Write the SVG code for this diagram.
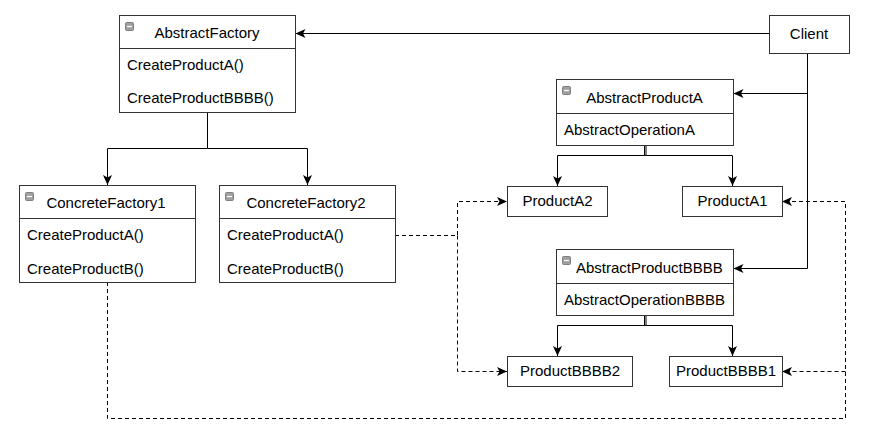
<svg xmlns="http://www.w3.org/2000/svg" width="879" height="438" viewBox="0 0 879 438">
<style>
.box{fill:#fff;stroke:#333;stroke-width:1}
.div{stroke:#333;stroke-width:1}
.t{font-family:"Liberation Sans",Arial,sans-serif;font-size:15px;fill:#000}
.c{text-anchor:middle}
.ln{fill:none;stroke:#000;stroke-width:1}
.dl{fill:none;stroke:#000;stroke-width:1;stroke-dasharray:4 3}
.ic{fill:#a0a0a0;stroke:#808080;stroke-width:1}
.icm{stroke:#fff;stroke-width:1.2}
</style>
<defs>
<marker id="arr" markerUnits="userSpaceOnUse" markerWidth="12" markerHeight="10" refX="10" refY="4.5" orient="auto">
<path d="M0,0 L10,4.5 L0,9 L2.5,4.5 Z" fill="#000"/>
</marker>
</defs>
<rect width="879" height="438" fill="#fff"/>
<g id="connectors">
<path class="ln" d="M769,33.5 H295.5" marker-end="url(#arr)"/>
<path class="ln" d="M807.5,53 V268.5 H733.5" marker-end="url(#arr)"/>
<path class="ln" d="M807.5,93.5 H733.5" marker-end="url(#arr)"/>
<path class="ln" d="M207.5,112 V148.5 H107.5 V185" marker-end="url(#arr)"/>
<path class="ln" d="M207.5,148.5 H307.5 V185" marker-end="url(#arr)"/>
<path class="ln" d="M644.5,145 V155.5 H557.5 V186" marker-end="url(#arr)"/>
<path class="ln" d="M644.5,155.5 H732.5 V186" marker-end="url(#arr)"/>
<path class="ln" d="M646,145 V155.5"/>
<path class="ln" d="M644.5,315 V325.5 H557.5 V356" marker-end="url(#arr)"/>
<path class="ln" d="M644.5,325.5 H732.5 V356" marker-end="url(#arr)"/>
<path class="ln" d="M646,315 V325.5"/>
<path class="dl" d="M395,235.5 H457.5 V201.5 H507" marker-end="url(#arr)"/>
<path class="dl" d="M457.5,235.5 V371.5 H507" marker-end="url(#arr)"/>
<path class="dl" d="M107.5,282 V418.5 H845.5 V201.5 H782" marker-end="url(#arr)"/>
<path class="dl" d="M845.5,371.5 H782" marker-end="url(#arr)"/>
</g>
<g id="AbstractFactory">
<rect class="box" x="119.5" y="15.5" width="176" height="97"/>
<line class="div" x1="119.5" y1="48.5" x2="295.5" y2="48.5"/>
<rect class="ic" x="125.5" y="22.5" width="8" height="8" rx="1"/>
<line class="icm" x1="127" y1="26.5" x2="132" y2="26.5"/>
<text class="t c" x="207" y="38">AbstractFactory</text>
<text class="t" x="127" y="70">CreateProductA()</text>
<text class="t" x="127" y="103">CreateProductBBBB()</text>
</g>
<g id="ConcreteFactory1">
<rect class="box" x="19.5" y="185.5" width="176" height="97"/>
<line class="div" x1="19.5" y1="218.5" x2="195.5" y2="218.5"/>
<rect class="ic" x="25.5" y="192.5" width="8" height="8" rx="1"/>
<line class="icm" x1="27" y1="196.5" x2="32" y2="196.5"/>
<text class="t c" x="106" y="208">ConcreteFactory1</text>
<text class="t" x="27" y="240">CreateProductA()</text>
<text class="t" x="27" y="274">CreateProductB()</text>
</g>
<g id="ConcreteFactory2">
<rect class="box" x="219.5" y="185.5" width="176" height="97"/>
<line class="div" x1="219.5" y1="218.5" x2="395.5" y2="218.5"/>
<rect class="ic" x="225.5" y="192.5" width="8" height="8" rx="1"/>
<line class="icm" x1="227" y1="196.5" x2="232" y2="196.5"/>
<text class="t c" x="306" y="208">ConcreteFactory2</text>
<text class="t" x="227" y="240">CreateProductA()</text>
<text class="t" x="227" y="274">CreateProductB()</text>
</g>
<g id="Client">
<rect class="box" x="769.5" y="15.5" width="80" height="38"/>
<text class="t c" x="809" y="39">Client</text>
</g>
<g id="AbstractProductA">
<rect class="box" x="556.5" y="79.5" width="177" height="66"/>
<line class="div" x1="556.5" y1="113.5" x2="733.5" y2="113.5"/>
<rect class="ic" x="562.5" y="86.5" width="8" height="8" rx="1"/>
<line class="icm" x1="564" y1="90.5" x2="569" y2="90.5"/>
<text class="t c" x="644.5" y="103">AbstractProductA</text>
<text class="t" x="564" y="135">AbstractOperationA</text>
</g>
<g id="AbstractProductBBBB">
<rect class="box" x="556.5" y="249.5" width="177" height="66"/>
<line class="div" x1="556.5" y1="283.5" x2="733.5" y2="283.5"/>
<rect class="ic" x="562.5" y="256.5" width="8" height="8" rx="1"/>
<line class="icm" x1="564" y1="260.5" x2="569" y2="260.5"/>
<text class="t" x="576" y="273">AbstractProductBBBB</text>
<text class="t" x="564" y="305">AbstractOperationBBBB</text>
</g>
<g id="ProductA2">
<rect class="box" x="507.5" y="186.5" width="100" height="30"/>
<text class="t c" x="557.5" y="206">ProductA2</text>
</g>
<g id="ProductA1">
<rect class="box" x="682.5" y="186.5" width="100" height="30"/>
<text class="t c" x="732.5" y="206">ProductA1</text>
</g>
<g id="ProductBBBB2">
<rect class="box" x="507.5" y="356.5" width="125" height="30"/>
<text class="t c" x="570" y="376">ProductBBBB2</text>
</g>
<g id="ProductBBBB1">
<rect class="box" x="669.5" y="356.5" width="113" height="30"/>
<text class="t c" x="726" y="376">ProductBBBB1</text>
</g>
</svg>
